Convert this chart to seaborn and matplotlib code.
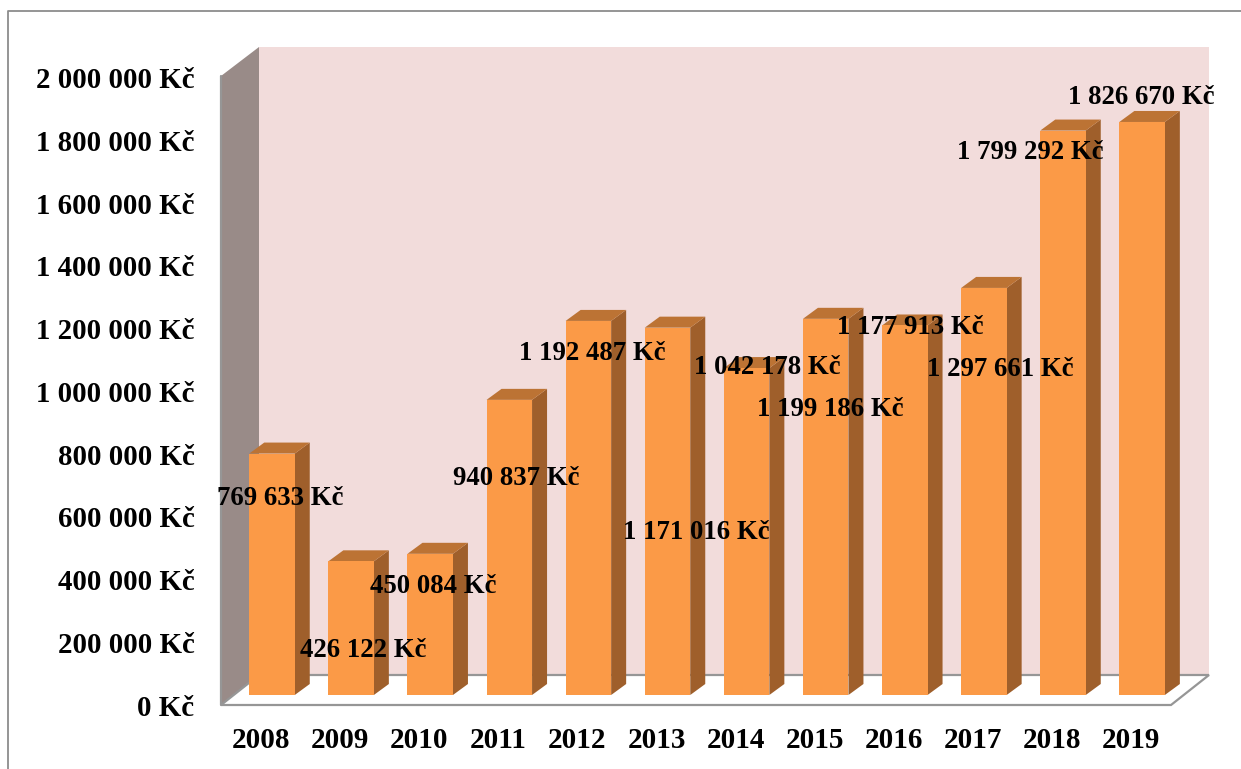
import matplotlib
matplotlib.use("Agg")
import matplotlib.pyplot as plt
import matplotlib.transforms as mtrans
from matplotlib.patches import Polygon
from matplotlib.lines import Line2D
import pandas as pd
import seaborn as sns

years = ["2008", "2009", "2010", "2011", "2012", "2013", "2014", "2015", "2016", "2017", "2018", "2019"]
costs = [769633, 426122, 450084, 940837, 1192487, 1171016, 1042178, 1199186, 1177913, 1297661, 1799292, 1826670]
cost_labels = ["769 633 Kč", "426 122 Kč", "450 084 Kč", "940 837 Kč", "1 192 487 Kč", "1 171 016 Kč",
               "1 042 178 Kč", "1 199 186 Kč", "1 177 913 Kč", "1 297 661 Kč", "1 799 292 Kč", "1 826 670 Kč"]
y_ticks = [0, 200000, 400000, 600000, 800000, 1000000, 1200000, 1400000, 1600000, 1800000, 2000000]
y_tick_labels = ["0 Kč", "200 000 Kč", "400 000 Kč", "600 000 Kč", "800 000 Kč", "1 000 000 Kč",
                 "1 200 000 Kč", "1 400 000 Kč", "1 600 000 Kč", "1 800 000 Kč", "2 000 000 Kč"]

# label shift from the bar's top centre, in pixels (the labels sit all over the place)
label_shift = [(8, -45), (12, -89), (3, -33), (7, -79), (4, -33), (29, -205),
               (21, 1), (5, -91), (6, -2), (16, -82), (-33, -22), (-1, 24)]

W, H = 1241, 769
FRONT = "#FB9A47"
SIDE = "#9F5F2B"
TOP = "#BC7334"
WALL = "#F2DCDB"
LEFT_WALL = "#998B88"
EDGE = "#969696"

sns.set_theme(style="white")
plt.rcParams["font.family"] = ["Liberation Serif", "DejaVu Sans"]
plt.rcParams["font.weight"] = "bold"

fig = plt.figure(figsize=(W / 100, H / 100), dpi=100)
# axes run from the front left floor corner to the top right of the back wall
ax = fig.add_axes([221 / W, 1 - 705 / H, (1209 - 221) / W, (705 - 47) / H])

df = pd.DataFrame({"year": years, "cost": costs})
sns.barplot(data=df, x="year", y="cost", color=FRONT, saturation=1, width=45.5 / 79.1, ax=ax, zorder=3, linewidth=0)

px_x = 1 / 79.1
px_y = 1e6 / 313.7
ax.set_xlim((221 - 272) * px_x, (1209 - 272) * px_x)
ax.set_ylim(-10 * px_y, 648 * px_y)
ax.patch.set_alpha(0)
sns.despine(ax=ax, left=True, bottom=True)

x0, x1 = ax.get_xlim()
y0, y1 = ax.get_ylim()
wall_x = 38 * px_x
wall_y = 30 * px_y
top_front = 2000000 - 8.4 * px_y

# walls and floor
ax.add_patch(Polygon([(x0 + wall_x, y0 + wall_y), (x1, y0 + wall_y), (x1, y1), (x0 + wall_x, y1)],
                     fc=WALL, ec="none", zorder=0))
ax.add_patch(Polygon([(x0, y0), (x0 + wall_x, y0 + wall_y), (x0 + wall_x, y1), (x0, top_front)],
                     fc=LEFT_WALL, ec="none", zorder=1))
ax.add_patch(Polygon([(x0, y0), (x1 - wall_x, y0), (x1, y0 + wall_y), (x0 + wall_x, y0 + wall_y)],
                     fc="white", ec=EDGE, lw=1.6, zorder=1, clip_on=False))
ax.add_line(Line2D([x0, x0], [y0, top_front], color=EDGE, lw=1.6, zorder=2, clip_on=False))

# depth of the columns, built from the bars seaborn drew
dx = 15 * px_x
dy = 11 * px_y
for bar in ax.containers[0]:
    l, b = bar.get_x(), bar.get_y()
    r, t = l + bar.get_width(), b + bar.get_height()
    ax.add_patch(Polygon([(r, b), (r + dx, b + dy), (r + dx, t + dy), (r, t)], fc=SIDE, ec="none", zorder=2))
    ax.add_patch(Polygon([(l, t), (r, t), (r + dx, t + dy), (l + dx, t + dy)], fc=TOP, ec="none", zorder=2))

for bar, text, shift in zip(ax.containers[0], cost_labels, label_shift):
    ax.annotate(text, (bar.get_x() + bar.get_width() / 2, bar.get_height()), xytext=shift,
                textcoords="offset pixels", ha="center", va="center", fontsize=19.3,
                fontweight="bold", color="black", zorder=5, annotation_clip=False)

ax.set_xlabel("")
ax.set_ylabel("")
ax.set_yticks(y_ticks)
ax.set_yticklabels(y_tick_labels, fontsize=20.8, fontweight="bold", color="black")
ax.tick_params(axis="y", length=0, pad=19)
ax.tick_params(axis="x", length=0, pad=16)
for lab in ax.get_xticklabels():
    lab.set_fontsize(21)
    lab.set_fontweight("bold")
    lab.set_color("black")
    # year labels sit left of their columns, on the front edge of the floor
    lab.set_transform(lab.get_transform() + mtrans.ScaledTranslation(-11 / 100, 0, fig.dpi_scale_trans))
shift_down = mtrans.ScaledTranslation(0, -10 / 100, fig.dpi_scale_trans)
for lab in ax.get_yticklabels():
    lab.set_transform(lab.get_transform() + shift_down)

# chart frame, cut off by the picture on the right and bottom
fig.add_artist(Line2D([8 / W, 8 / W, 1], [0, 1 - 11 / H, 1 - 11 / H], color="#8C8C8C", lw=1.3))

fig.savefig("out.png", dpi=100)
